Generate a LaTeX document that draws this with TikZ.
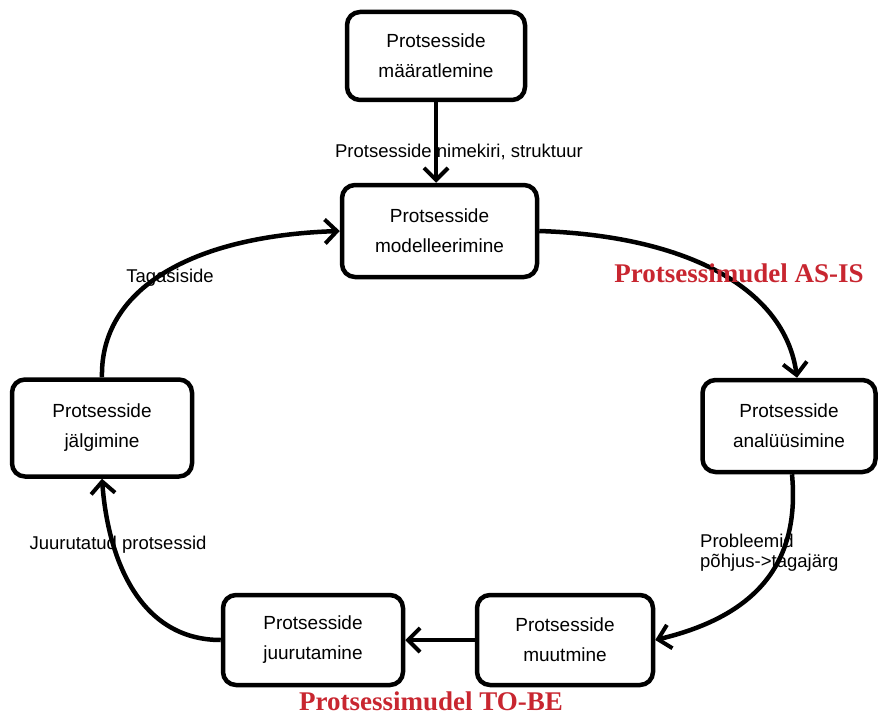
\documentclass[tikz,border=0pt]{standalone}
\usepackage{fontspec}
\setmainfont{Liberation Sans}
\newfontfamily\redfont{Liberation Serif}
\usetikzlibrary{arrows.meta}
\definecolor{redlbl}{RGB}{200,38,48}
\begin{document}
\begin{tikzpicture}[x=1pt,y=-1pt,
  box/.style={draw, line width=4.5pt, rounded corners=13pt, align=center,
    font=\fontsize{19}{30}\selectfont, inner sep=0pt},
  conn/.style={line width=4.5pt, -{Straight Barb[length=12pt,width=24pt,line width=4pt]}},
  lbl/.style={font=\fontsize{18.5}{21}\selectfont, inner sep=0pt},
  redlabel/.style={font=\redfont\bfseries\fontsize{27}{30}\selectfont, text=redlbl, inner sep=0pt}]
\useasboundingbox (0,0) rectangle (879,717);
\node[box, minimum width=178pt, minimum height=88pt] (def) at (436,56) {Protsesside\\määratlemine};
\node[box, minimum width=195pt, minimum height=92pt] (mod) at (439.5,231) {Protsesside\\modelleerimine};
\node[box, minimum width=173pt, minimum height=92pt] (ana) at (789,426) {Protsesside\\analüüsimine};
\node[box, minimum width=176pt, minimum height=90pt] (muu) at (565,640) {Protsesside\\muutmine};
\node[box, minimum width=180pt, minimum height=90pt] (juu) at (313,640) {Protsesside\\juurutamine};
\node[box, minimum width=180pt, minimum height=97pt] (jal) at (102,428) {Protsesside\\jälgimine};

\draw[conn] (def.south) -- (def.south |- mod.north);
\draw[conn] (mod.east) .. controls (690,236) and (785,290) .. ([xshift=8pt]ana.north);
\draw[conn] ([xshift=3pt]ana.south) .. controls (800,560) and (760,615) .. (muu.east);
\draw[conn] (muu.west) -- (juu.west -| juu.east);
\draw[conn] (juu.west) .. controls (140,640) and (108,560) .. (jal.south);
\draw[conn] (jal.north) .. controls (100,290) and (190,236) .. (mod.west);

\node[lbl] (l1) at (459,152) {Protsesside nimekiri, struktuur};
\node[lbl] (l2) at (170,278) {Tagasiside};
\node[lbl] (l3) at (118,545) {Juurutatud protsessid};
\node[lbl, align=left, anchor=west, font=\fontsize{18.5}{20}\selectfont] (l4) at (700,553) {Probleemid\\põhjus->tagajärg};
\node[redlabel] (r1) at (739,273) {Protsessimudel AS-IS};
\node[redlabel] (r2) at (431,701) {Protsessimudel TO-BE};
\end{tikzpicture}
\end{document}
